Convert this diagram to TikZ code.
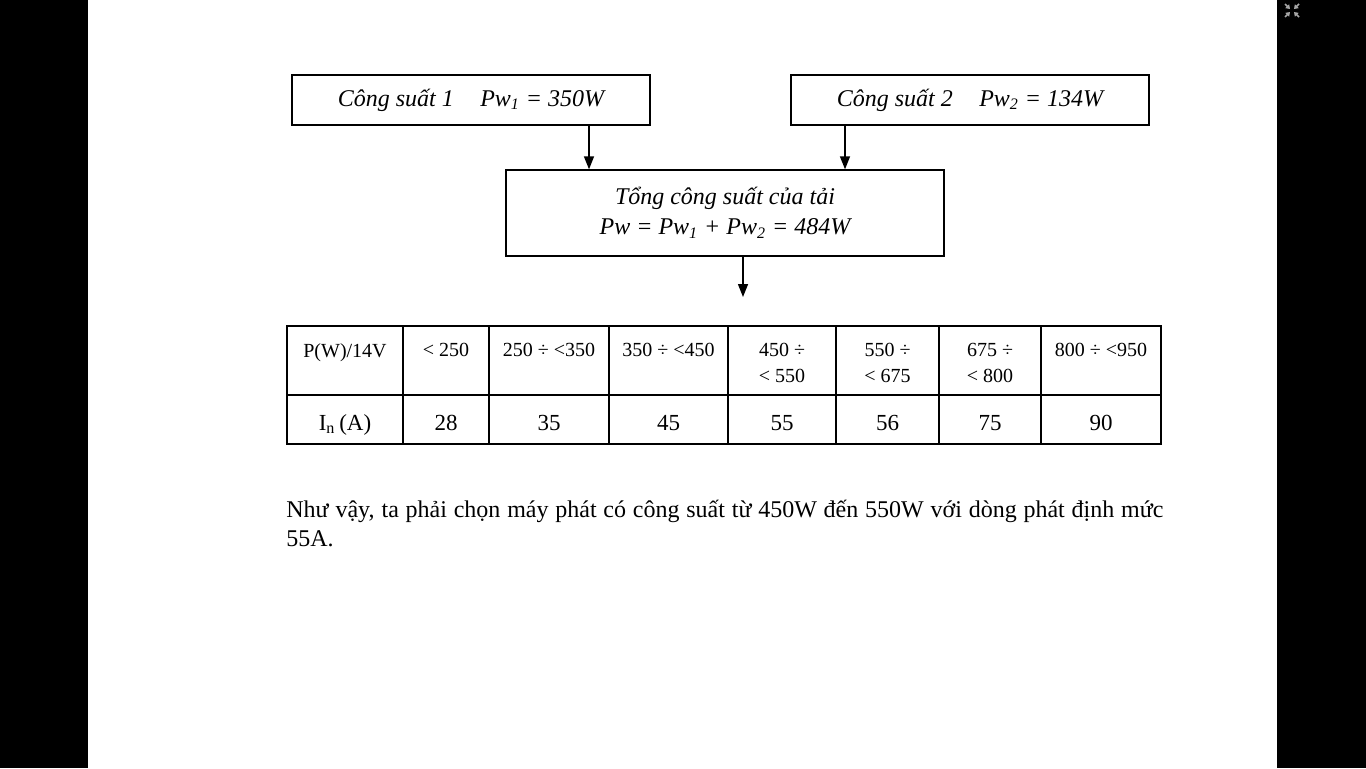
\documentclass[tikz,border=0pt]{standalone}
\usepackage{fontspec}
\setmainfont{Liberation Serif}
\usetikzlibrary{arrows.meta}

\begin{document}
\begin{tikzpicture}[x=.5pt,y=-.5pt,text=black,
  box/.style={draw=black,line width=.7pt,inner sep=0pt,align=center,
    font=\itshape\fontsize{12}{15}\selectfont},
  flow/.style={-{Triangle[length=6.5pt,width=5pt]},line width=.7pt},
  grid/.style={line width=.6pt},
  head/.style={font=\fontsize{10}{13}\selectfont,align=center,inner sep=0pt,anchor=north},
  value/.style={font=\fontsize{11.5}{14}\selectfont,inner sep=0pt,anchor=base},
  para/.style={font=\fontsize{12}{14.5}\selectfont,inner sep=0pt,anchor=base west},
  icon/.style={draw=black!35,line width=.8pt,-{Triangle[length=2pt,width=2.6pt]}}]
\useasboundingbox (0,0) rectangle (1366,768);
\fill[white] (0,0) rectangle (1366,768);

% PAGE EDGES
\fill[black] (0,0) rectangle (88,768);
\fill[black] (1277,0) rectangle (1366,768);
\draw[icon] (1285,4)--(1290,9);
\draw[icon] (1299,4)--(1294,9);
\draw[icon] (1285,17)--(1290,12);
\draw[icon] (1299,17)--(1294,12);

% LOAD POWER
\node[box,minimum width=179pt,minimum height=25pt] (pw1) at (471,100)
  {Công suất 1\hspace{1.1em}Pw\textsubscript{1} = 350W};
\node[box,minimum width=179pt,minimum height=25pt] (pw2) at (970,100)
  {Công suất 2\hspace{1.1em}Pw\textsubscript{2} = 134W};
\node[box,minimum width=219pt,minimum height=43pt] (total) at (725,213)
  {Tổng công suất của tải\\Pw = Pw\textsubscript{1} + Pw\textsubscript{2} = 484W};
\coordinate (a1) at (589,0);
\coordinate (a2) at (845,0);
\coordinate (a3) at (743,297);
\draw[flow] (pw1.south -| a1)--(total.north -| a1);
\draw[flow] (pw2.south -| a2)--(total.north -| a2);
\draw[flow] (total.south -| a3)--(a3);

% GENERATOR TABLE
\draw[grid] (287,326) rectangle (1161,444);
\draw[grid] (287,395)--(1161,395);
\foreach \x in {403,489,609,728,836,939,1041}
  \draw[grid] (\x,326)--(\x,444);
\node[head] (h1) at (345,343) {P(W)/14V};
\node[head] (h2) at (446,343) {< 250};
\node[head] (h3) at (549,343) {250 ÷ <350};
\node[head] (h4) at (668.5,343) {350 ÷ <450};
\node[head] (h5) at (782,343) {450 ÷\\< 550};
\node[head] (h6) at (887.5,343) {550 ÷\\< 675};
\node[head] (h7) at (990,343) {675 ÷\\< 800};
\node[head] (h8) at (1101,343) {800 ÷ <950};
\node[value] (v1) at (345,430) {I\textsubscript{n}\,(A)};
\node[value] (v2) at (446,430) {28};
\node[value] (v3) at (549,430) {35};
\node[value] (v4) at (668.5,430) {45};
\node[value] (v5) at (782,430) {55};
\node[value] (v6) at (887.5,430) {56};
\node[value] (v7) at (990,430) {75};
\node[value] (v8) at (1101,430) {90};

% CONCLUSION
\node[para] (para1) at (286,517)
  {\makebox[438.5pt][s]{Như vậy, ta phải chọn máy phát có công suất từ 450W đến 550W với dòng phát định mức}};
\node[para] (para2) at (286,546) {55A.};
\end{tikzpicture}
\end{document}
